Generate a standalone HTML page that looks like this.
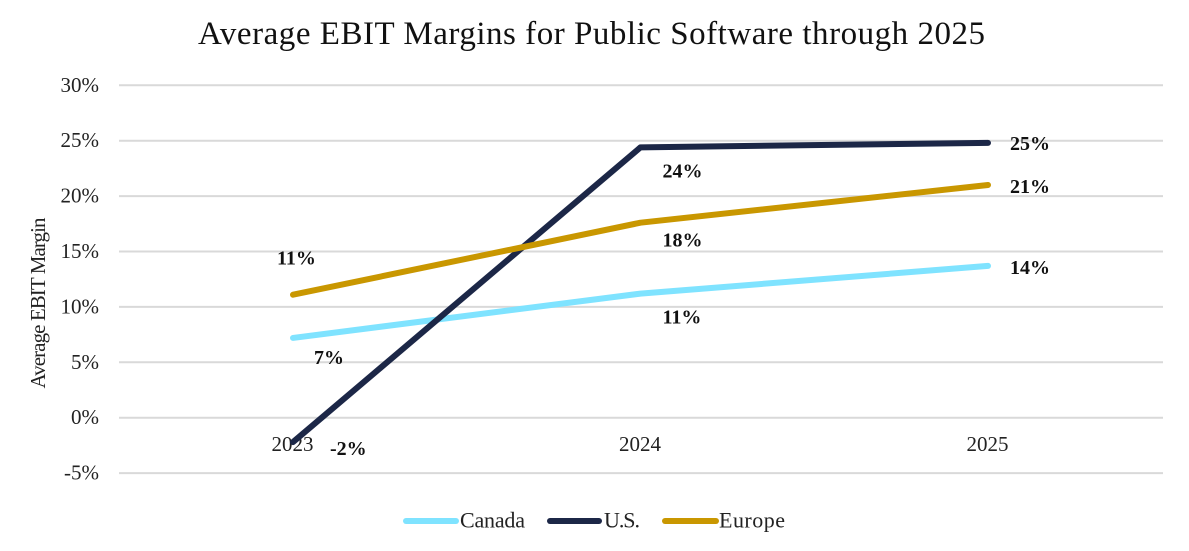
<!DOCTYPE html>
<html lang="en">
<head>
<meta charset="utf-8">
<title>Average EBIT Margins for Public Software through 2025</title>
<style>
html,body{margin:0;padding:0;background:#fff;width:1189px;height:551px;overflow:hidden}
svg{display:block;font-family:"Liberation Serif",serif}
</style>
</head>
<body>
<svg id="chart" xmlns="http://www.w3.org/2000/svg" width="1189" height="551" viewBox="0 0 1189 551">
  <rect width="1189" height="551" fill="#ffffff"/>
  <text x="198" y="44" font-size="33" fill="#111" textLength="787" lengthAdjust="spacing">Average EBIT Margins for Public Software through 2025</text>
  <text transform="translate(45,303) rotate(-90)" text-anchor="middle" font-size="21" fill="#222" textLength="171" lengthAdjust="spacing">Average EBIT Margin</text>
  <g id="grid"></g>
  <g id="yticks"></g>
  <g id="xticks"></g>
  <g id="series"></g>
  <g id="labels"></g>
  <g id="legend"></g>
</svg>
<script>
const categories = ['2023', '2024', '2025'];
const yTicks = [-5, 0, 5, 10, 15, 20, 25, 30];
const seriesNames = ['Canada', 'U.S.', 'Europe'];
const canadaValues = [7.2, 11.2, 13.7];
const usValues = [-2.2, 24.4, 24.8];
const europeValues = [11.1, 17.6, 21.0];

const NS = 'http://www.w3.org/2000/svg';
const allValues = [canadaValues, usValues, europeValues];
const colors = ['#7fe3ff', '#1c2747', '#c99700'];
const plotLeft = 119, plotRight = 1163;
const firstX = 293, stepX = 347.5;

function xPos(i) { return firstX + i * stepX; }
function yPos(v) { return 417.7 - v * 11.08; }
function make(parent, tag, attrs, text) {
  const el = document.createElementNS(NS, tag);
  for (const k in attrs) el.setAttribute(k, attrs[k]);
  if (text !== undefined) el.textContent = text;
  parent.appendChild(el);
  return el;
}

const gridG = document.getElementById('grid');
const yG = document.getElementById('yticks');
yTicks.forEach(function (t) {
  const line = make(gridG, 'line', { x1: plotLeft, x2: plotRight, y1: yPos(t), y2: yPos(t), stroke: '#d9d9d9', 'stroke-width': 2 });
  
  
  const lab = make(yG, 'text', { x: 99, y: yPos(t) + 6.5, 'text-anchor': 'end', 'font-size': 21, fill: '#222' }, t + '%');
  
  
});

const xG = document.getElementById('xticks');
categories.forEach(function (c, i) {
  const lab = make(xG, 'text', { x: xPos(i) - 0.5, y: 451, 'text-anchor': 'middle', 'font-size': 21, fill: '#222' }, c);
  
  
});

const seriesG = document.getElementById('series');
allValues.forEach(function (vals, s) {
  const pts = vals.map(function (v, i) { return xPos(i) + ',' + yPos(v); }).join(' ');
  const line = make(seriesG, 'polyline', { points: pts, fill: 'none', stroke: colors[s], 'stroke-width': 6, 'stroke-linecap': 'round', 'stroke-linejoin': 'round' });
  
  
});

/* label placement relative to each point: [dx, dy] of the text's left baseline */
const labelOffsets = [
  [[21, 26], [22, 30], [22, 8]],
  [[37, 13], [22, 30], [22, 7]],
  [[-16, -30], [22, 24], [22, 8]]
];
const labelsG = document.getElementById('labels');
allValues.forEach(function (vals, s) {
  vals.forEach(function (v, i) {
    const off = labelOffsets[s][i];
    const lab = make(labelsG, 'text', { x: xPos(i) + off[0], y: yPos(v) + off[1], 'font-size': 20, 'font-weight': 'bold', fill: '#111' }, Math.round(v) + '%');
    
    
  });
});

const legendG = document.getElementById('legend');
const legendSwatchX = [[406, 456], [550, 599], [665, 716]];
const legendTextX = [460, 604, 719];
const legendTextWidth = [65, 36, 66];
seriesNames.forEach(function (n, s) {
  const sw = make(legendG, 'line', { x1: legendSwatchX[s][0], x2: legendSwatchX[s][1], y1: 521, y2: 521, stroke: colors[s], 'stroke-width': 6, 'stroke-linecap': 'round' });
  
  
  const t = make(legendG, 'text', { x: legendTextX[s], y: 527.5, 'font-size': 22, fill: '#222', textLength: legendTextWidth[s], lengthAdjust: 'spacing' }, n);
  
  
});
</script>
</body>
</html>
